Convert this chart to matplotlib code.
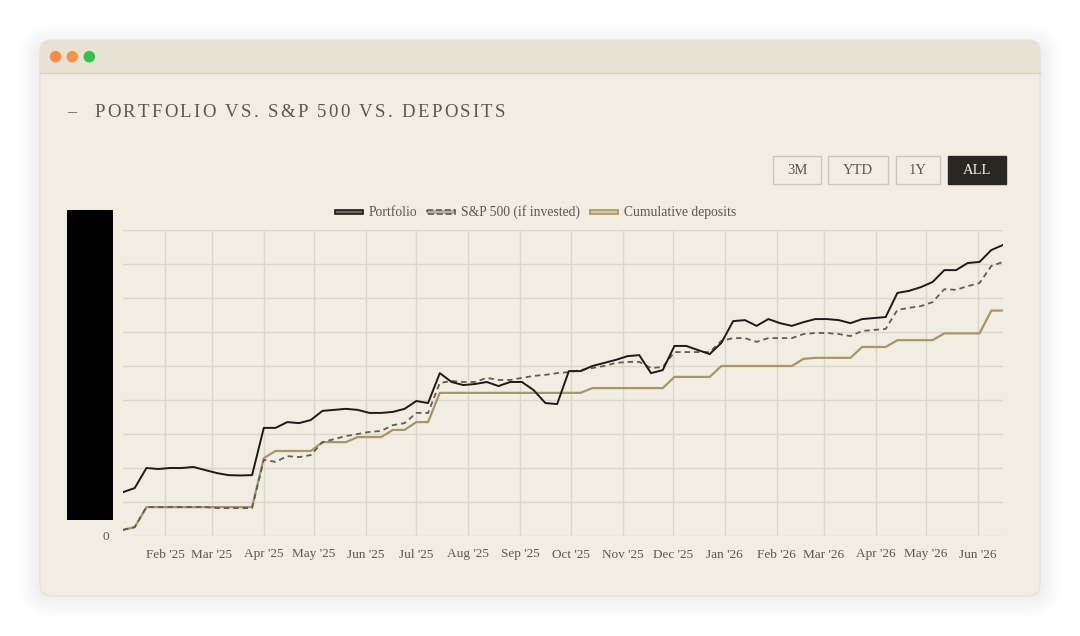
import matplotlib
matplotlib.use("Agg")
import matplotlib.pyplot as plt
import matplotlib.dates as mdates
from matplotlib.patches import FancyBboxPatch, Rectangle, Circle
from matplotlib.font_manager import FontProperties
import pandas as pd

# weekly samples, values in $k
weeks = pd.date_range("2025-01-07", periods=76, freq="7D")

portfolio = [
    12.9, 14.1, 20.0, 19.7, 20.0, 20.0, 20.3, 19.4, 18.5, 17.9,
    17.8, 17.9, 31.8, 31.8, 33.5, 33.2, 34.1, 36.8, 37.1, 37.4,
    37.1, 36.2, 36.2, 36.5, 37.4, 39.7, 39.1, 47.9, 45.3, 44.4,
    44.7, 45.3, 44.1, 45.3, 45.3, 42.9, 39.1, 38.8, 48.5, 48.5,
    50.0, 50.9, 51.8, 52.9, 53.2, 47.9, 48.8, 55.9, 55.9, 54.7,
    53.5, 56.8, 63.2, 63.5, 61.8, 63.8, 62.6, 61.8, 62.9, 63.8,
    63.8, 63.5, 62.6, 63.8, 64.1, 64.4, 71.5, 72.1, 73.2, 74.7,
    78.2, 78.2, 80.3, 80.6, 84.1, 85.6,
]

sp500 = [
    1.8, 2.6, 8.5, 8.5, 8.5, 8.5, 8.5, 8.5, 8.2, 8.2,
    8.2, 8.2, 22.4, 21.8, 23.5, 23.2, 23.8, 27.6, 28.5, 29.4,
    30.0, 30.6, 30.9, 32.6, 33.2, 36.2, 36.2, 45.0, 45.6, 45.3,
    45.3, 46.5, 45.9, 45.9, 46.5, 47.1, 47.4, 47.9, 48.2, 48.8,
    49.4, 50.0, 50.9, 51.2, 51.2, 49.4, 49.7, 54.1, 54.1, 54.1,
    54.1, 57.4, 58.2, 58.2, 57.1, 58.2, 58.2, 58.2, 59.4, 59.7,
    59.7, 59.4, 58.8, 60.3, 60.6, 60.9, 66.5, 67.1, 67.6, 68.8,
    72.6, 72.4, 73.5, 74.4, 79.4, 80.6,
]

deposits = [
    1.8, 2.6, 8.5, 8.5, 8.5, 8.5, 8.5, 8.5, 8.5, 8.5,
    8.5, 8.5, 22.9, 25.0, 25.0, 25.0, 25.0, 27.6, 27.6, 27.6,
    29.1, 29.1, 29.1, 31.2, 31.2, 33.5, 33.5, 42.1, 42.1, 42.1,
    42.1, 42.1, 42.1, 42.1, 42.1, 42.1, 42.1, 42.1, 42.1, 42.1,
    43.5, 43.5, 43.5, 43.5, 43.5, 43.5, 43.5, 46.8, 46.8, 46.8,
    46.8, 50.0, 50.0, 50.0, 50.0, 50.0, 50.0, 50.0, 52.1, 52.4,
    52.4, 52.4, 52.4, 55.6, 55.6, 55.6, 57.6, 57.6, 57.6, 57.6,
    59.6, 59.6, 59.6, 59.6, 66.3, 66.3,
]

series_names = ["Portfolio", "S&P 500 (if invested)", "Cumulative deposits"]
range_buttons = ["3M", "YTD", "1Y", "ALL"]
title = "PORTFOLIO VS. S&P 500 VS. DEPOSITS"

SERIF = ["Liberation Serif", "DejaVu Serif"]
plt.rcParams["font.family"] = SERIF

INK = "#1d1b18"
SP_GREY = "#615c54"
GOLD = "#a89762"
TEXT = "#5d574c"
GRID = "#ddd6c7"
BODY = "#f1ede3"
BAR = "#e8e2d4"

fig = plt.figure(figsize=(10.8, 6.36), dpi=100)
fig.patch.set_facecolor("white")
renderer = fig.canvas.get_renderer()

# pixel-space canvas for the window chrome
bg = fig.add_axes([0, 0, 1, 1], zorder=0)
bg.set_xlim(0, 1080)
bg.set_ylim(636, 0)
bg.axis("off")

# soft drop shadow
for i in range(16):
    pad = 1 + i * 1.4
    bg.add_patch(FancyBboxPatch((40 - pad, 46 - pad), 1000 + 2 * pad, 550 + 2 * pad,
                                boxstyle=f"round,pad=0,rounding_size={12 + pad}",
                                fc="black", ec="none", alpha=0.0045))

bg.add_patch(FancyBboxPatch((40, 40), 1000, 556, boxstyle="round,pad=0,rounding_size=12",
                            fc=BODY, ec="#e6e0d3", lw=0.8))
bg.add_patch(FancyBboxPatch((40, 40), 1000, 33, boxstyle="round,pad=0,rounding_size=12",
                            fc=BAR, ec="none"))
bg.add_patch(Rectangle((40, 58), 1000, 15, fc=BAR, ec="none"))
bg.plot([40, 1040], [73.3, 73.3], color="#d7d0bf", lw=1)

for cx, col in zip([55.7, 72.3, 89.3], ["#fa8b4b", "#f7944a", "#2fc645"]):
    bg.add_patch(Circle((cx, 56.7), 5.8, fc=col, ec="none"))


def text_width(s, fp):
    if s == " ":
        return fp.get_size_in_points() * 100 / 72 * 0.25
    w, _, _ = renderer.get_text_width_height_descent(s, fp, ismath=False)
    return w


def tracked(x, y, s, total_width, size, color):
    fp = FontProperties(family=SERIF, size=size)
    widths = [text_width(ch, fp) for ch in s]
    gap = (total_width - sum(widths)) / (len(s) - 1)
    cur = x
    for ch, w in zip(s, widths):
        bg.text(cur, y, ch, fontproperties=fp, color=color, ha="left", va="baseline")
        cur += w + gap


# title
bg.text(67, 113, "–", fontsize=13, color=TEXT, ha="left", va="center")
tracked(94, 117.3, title, 411, 13.5, TEXT)

# range buttons
btn_boxes = [(773, 48), (828, 60), (896, 44), (948, 58)]
btn_fp = FontProperties(family=SERIF, size=10.5)
for label, (bx, bw) in zip(range_buttons, btn_boxes):
    active = label == "ALL"
    bg.add_patch(Rectangle((bx, 156), bw, 28, fc="#2a2622" if active else "none",
                           ec="#2a2622" if active else "#cdc6b6", lw=1))
    bg.text(bx + bw / 2, 170.5, label, fontproperties=btn_fp, ha="center", va="center",
            color="#f3efe6" if active else TEXT)

# legend, centred over the plot
leg_fp = FontProperties(family=SERIF, size=9.8)
leg_styles = [
    (INK, "#6e6a63", "-"),
    (SP_GREY, "#b5afa4", "--"),
    (GOLD, "#d3c9a6", "-"),
]
box_w, box_gap, item_gap = 28, 6, 10
name_widths = [text_width(n, leg_fp) for n in series_names]
total = sum(box_w + box_gap + w for w in name_widths) + item_gap * (len(series_names) - 1)
cur = 535.5 - total / 2
for (ec, fc, ls), name, w in zip(leg_styles, series_names, name_widths):
    bg.add_patch(Rectangle((cur, 210), box_w, 4, fc=fc, ec=ec, lw=1.2, ls=ls))
    bg.text(cur + box_w + box_gap, 212.5, name, fontproperties=leg_fp, color=TEXT,
            ha="left", va="center")
    cur += box_w + box_gap + w + item_gap

# redacted y labels
bg.add_patch(Rectangle((67, 210), 46, 310, fc="black", ec="none"))

# chart
ax = fig.add_axes([123 / 1080, 1 - 536 / 636, 880 / 1080, 306 / 636], zorder=1)
ax.set_facecolor("none")

ax.plot(weeks, deposits, color=GOLD, lw=1.6, zorder=3)
ax.plot(weeks, sp500, color=SP_GREY, lw=1.3, ls=(0, (3, 2.2)), zorder=4)
ax.plot(weeks, portfolio, color=INK, lw=1.4, zorder=5)

ax.set_xlim(weeks[0], weeks[-1])
ax.set_ylim(0, 90)
ax.set_yticks(range(0, 91, 10))
ax.set_yticklabels(["0"] + [""] * 9)
ax.xaxis.set_major_locator(mdates.MonthLocator())
ax.xaxis.set_major_formatter(mdates.DateFormatter("%b '%y"))
ax.grid(True, color=GRID, lw=1)
ax.set_axisbelow(True)
ax.tick_params(length=0, labelsize=9.5, labelcolor=TEXT)
ax.tick_params(axis="x", pad=9)
ax.tick_params(axis="y", pad=10)
for sp in ax.spines.values():
    sp.set_visible(False)

fig.savefig("out.png", dpi=100, facecolor="white")
